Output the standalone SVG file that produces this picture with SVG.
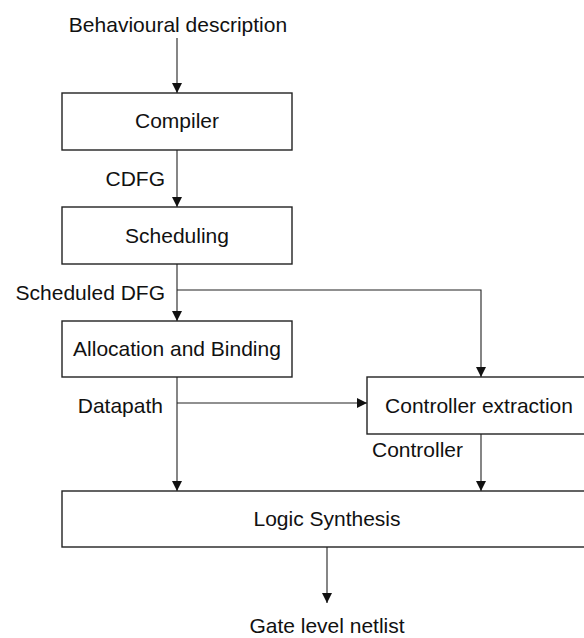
<svg xmlns="http://www.w3.org/2000/svg" width="584" height="638" viewBox="0 0 584 638">
<defs>
<marker id="ah" markerWidth="10" markerHeight="10" refX="10" refY="5" orient="auto" markerUnits="userSpaceOnUse">
<path d="M0,0 L10,5 L0,10 Z" fill="#111"/>
</marker>
<style>
.box{fill:#fff;stroke:#222;stroke-width:1.4}
.lbl{font-family:"Liberation Sans",Arial,sans-serif;font-size:21px;fill:#111}
.c{text-anchor:middle}
.e{text-anchor:end}
.conn{fill:none;stroke:#222;stroke-width:1.1}
</style>
</defs>
<rect width="584" height="638" fill="#fff"/>
<g id="connectors">
<line class="conn" x1="177" y1="38" x2="177" y2="93" marker-end="url(#ah)"/>
<line class="conn" x1="177" y1="150" x2="177" y2="207" marker-end="url(#ah)"/>
<line class="conn" x1="177" y1="264" x2="177" y2="321" marker-end="url(#ah)"/>
<polyline class="conn" points="177,290 481,290 481,377" marker-end="url(#ah)"/>
<line class="conn" x1="177" y1="377" x2="177" y2="491" marker-end="url(#ah)"/>
<line class="conn" x1="177" y1="403" x2="367" y2="403" marker-end="url(#ah)"/>
<line class="conn" x1="481" y1="434" x2="481" y2="491" marker-end="url(#ah)"/>
<line class="conn" x1="327" y1="547" x2="327" y2="603" marker-end="url(#ah)"/>
<text class="lbl e" x="165" y="186">CDFG</text>
<text class="lbl e" x="165" y="300">Scheduled DFG</text>
<text class="lbl e" x="163" y="413">Datapath</text>
<text class="lbl" x="372" y="457">Controller</text>
</g>
<g id="input"><text class="lbl c" x="178" y="32">Behavioural description</text></g>
<g id="compiler"><rect class="box" x="62" y="93" width="230" height="57"/><text class="lbl c" x="177" y="128">Compiler</text></g>
<g id="scheduling"><rect class="box" x="62" y="207" width="230" height="57"/><text class="lbl c" x="177" y="243">Scheduling</text></g>
<g id="allocation"><rect class="box" x="62" y="321" width="230" height="56"/><text class="lbl c" x="177" y="356">Allocation and Binding</text></g>
<g id="controller"><rect class="box" x="367" y="377" width="225" height="57"/><text class="lbl c" x="479" y="413">Controller extraction</text></g>
<g id="logic"><rect class="box" x="62" y="491" width="530" height="56"/><text class="lbl c" x="327" y="526">Logic Synthesis</text></g>
<g id="output"><text class="lbl c" x="327" y="633">Gate level netlist</text></g>
</svg>
